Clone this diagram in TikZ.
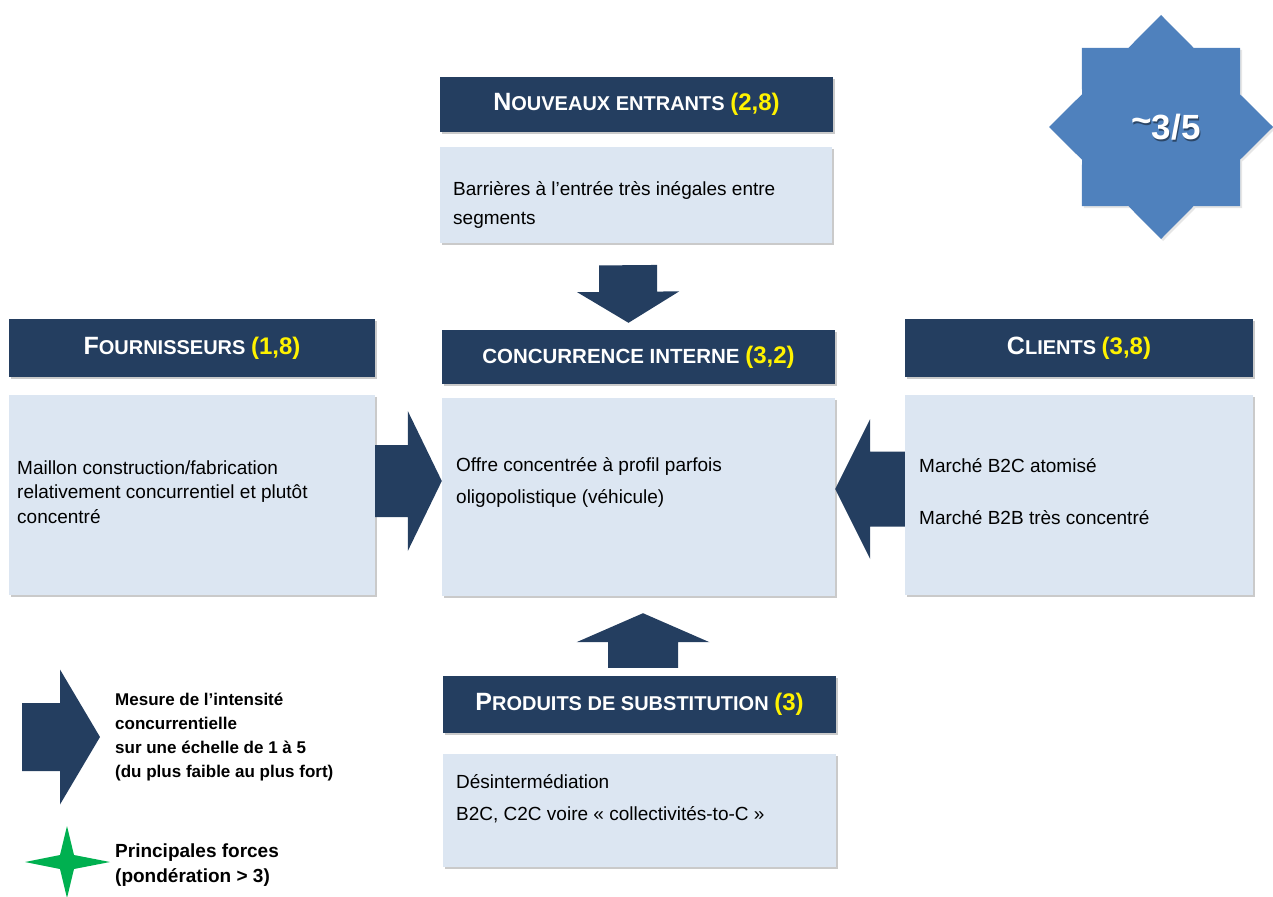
\documentclass[tikz,border=0pt]{standalone}
\usepackage{fontspec}
\setmainfont{Liberation Sans}
\usetikzlibrary{calc, positioning, shapes.geometric, shadows}

\definecolor{navy}{RGB}{36,62,96}
\definecolor{paleblue}{RGB}{220,230,242}
\definecolor{starblue}{RGB}{79,129,189}
\definecolor{forcegreen}{RGB}{0,176,80}

\tikzset{
  boxshadow/.style={drop shadow={shadow xshift=2pt, shadow yshift=-2pt, opacity=.35, fill=black!60}},
  head/.style={rectangle, fill=navy, text=white, inner sep=0pt, boxshadow,
    font=\bfseries\fontsize{20}{20}\selectfont},
  body/.style={rectangle, fill=paleblue, inner sep=0pt, boxshadow},
  bodytext/.style={anchor=west, align=left, inner sep=0pt, font=\fontsize{19}{#1}\selectfont},
  legendtext/.style={anchor=west, align=left, inner sep=0pt, font=\bfseries\fontsize{17}{#1}\selectfont},
  arrowfill/.style={fill=navy},
}

% big first letter, the rest in small capitals
\newcommand\capsc[2]{{\fontsize{25}{25}\selectfont #1}#2}
% yellow score after a force's name
\newcommand\score[1]{{\color{yellow}\fontsize{24}{24}\selectfont #1}}
% block arrow: from, to, half shaft, half head, head length (pt)
\newcommand\blockarrow[5]{%
  \fill[arrowfill] let \p1=(#1), \p2=(#2), \n1={atan2(\y2-\y1,\x2-\x1)} in
    ($(\p1)+(\n1+90:#3pt)$) -- ($(\p2)+(\n1+180:#5pt)+(\n1+90:#3pt)$)
    -- ($(\p2)+(\n1+180:#5pt)+(\n1+90:#4pt)$) -- (\p2)
    -- ($(\p2)+(\n1+180:#5pt)+(\n1-90:#4pt)$) -- ($(\p2)+(\n1+180:#5pt)+(\n1-90:#3pt)$)
    -- ($(\p1)+(\n1-90:#3pt)$) -- cycle;}

\begin{document}
\begin{tikzpicture}[x=1pt, y=-1pt]
  \useasboundingbox (0,0) rectangle (1273,896);

  % the five forces
  \node[head, minimum width=393pt, minimum height=55pt] (newhead) at (636.5,104.5)
    {\capsc{N}{OUVEAUX ENTRANTS} \score{(2,8)}};
  \node[body, minimum width=392pt, minimum height=96pt] (newbody) at (636,195) {};
  \node[bodytext=29] (newtext) at (453,205)
    {Barrières à l'entrée très inégales entre\\segments};

  \node[head, minimum width=366pt, minimum height=58pt] (fourhead) at (192,348)
    {\capsc{F}{OURNISSEURS} \score{(1,8)}};
  \node[body, minimum width=366pt, minimum height=200pt] (fourbody) at (192,495) {};
  \node[bodytext=24.5] (fourtext) at (17,492)
    {Maillon construction/fabrication\\relativement concurrentiel et plutôt\\concentré};

  \node[head, minimum width=393pt, minimum height=54pt] (conchead) at (638.5,357)
    {\fontsize{20.5}{20.5}\selectfont CONCURRENCE INTERNE \score{(3,2)}};
  \node[body, minimum width=393pt, minimum height=198pt] (concbody) at (638.5,497) {};
  \node[bodytext=32] (conctext) at (456,482)
    {Offre concentrée à profil parfois\\oligopolistique (véhicule)};

  \node[head, minimum width=348pt, minimum height=58pt] (clihead) at (1079,348)
    {\capsc{C}{LIENTS} \score{(3,8)}};
  \node[body, minimum width=348pt, minimum height=200pt] (clibody) at (1079,495) {};
  \node[bodytext=52] (clitext) at (919,492)
    {Marché B2C atomisé\\Marché B2B très concentré};

  \node[head, minimum width=393pt, minimum height=57pt] (prodhead) at (639.5,704.5)
    {\capsc{P}{RODUITS DE SUBSTITUTION} \score{(3)}};
  \node[body, minimum width=393pt, minimum height=113pt] (prodbody) at (639.5,810.5) {};
  \node[bodytext=32] (prodtext) at (456,799)
    {Désintermédiation\\B2C, C2C voire « collectivités-to-C »};

  % pressure arrows on the market
  \coordinate (newfrom) at ([xshift=-8pt,yshift=-22pt]newbody.south);
  \coordinate (newto) at ([xshift=-10pt,yshift=7pt]conchead.north);
  \blockarrow{newfrom}{newto}{29}{51}{31}

  \coordinate (fourfrom) at ([yshift=14pt]fourbody.east);
  \coordinate (fourto) at (fourfrom -| concbody.west);
  \blockarrow{fourfrom}{fourto}{36}{70}{34}

  \coordinate (clifrom) at ([yshift=6pt]clibody.west);
  \coordinate (clito) at (clifrom -| concbody.east);
  \blockarrow{clifrom}{clito}{37.5}{70}{35}

  \coordinate (prodfrom) at ([xshift=3.5pt,yshift=8pt]prodhead.north);
  \coordinate (prodto) at ([xshift=4.5pt,yshift=-17pt]concbody.south);
  \blockarrow{prodfrom}{prodto}{35}{66.5}{29}

  % overall score
  \node[star, star points=8, star point ratio=1.31, minimum size=224pt, inner sep=0pt,
        fill=starblue, drop shadow={shadow xshift=2pt, shadow yshift=-2pt, opacity=.2}]
    (scorestar) at (1161,127) {};
  \node[text=black, opacity=.45, font=\bfseries\fontsize{35}{35}\selectfont] (scoreshadow)
    at ([xshift=6pt,yshift=-2pt]scorestar.center) {\raisebox{.2em}{\textasciitilde}3/5};
  \node[text=white, font=\bfseries\fontsize{35}{35}\selectfont] (scoretext)
    at ([xshift=5pt]scorestar.center) {\raisebox{.2em}{\textasciitilde}3/5};

  % legend
  \coordinate (keyfrom) at (22,737);
  \coordinate (keyto) at (100,737);
  \blockarrow{keyfrom}{keyto}{34}{67.5}{40}
  \node[legendtext=24, right=15pt of keyto] (keytext)
    {Mesure de l'intensité\\concurrentielle\\sur une échelle de 1 à 5\\(du plus faible au plus fort)};

  \fill[forcegreen] (67,826) -- (74,855) -- (110,862) -- (74,869) -- (67,898)
    -- (60,869) -- (25,862) -- (60,855) -- cycle;
  \node[anchor=west, align=left, inner sep=0pt, font=\bfseries\fontsize{19}{25}\selectfont]
    (forcetext) at (115,865) {Principales forces\\(pondération > 3)};
\end{tikzpicture}
\end{document}
